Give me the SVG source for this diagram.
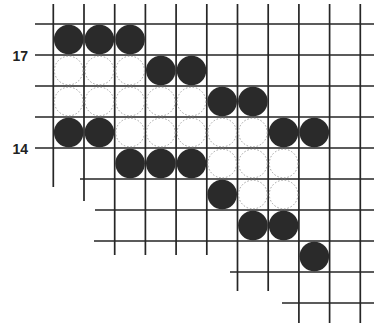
<svg xmlns="http://www.w3.org/2000/svg" width="374" height="324" viewBox="0 0 374 324">
<style>
.g{stroke:#262626;stroke-width:1.7;fill:none}
.b{fill:#2a2a2a}
.w{fill:#fff;stroke:#9a9a9a;stroke-width:0.9;stroke-dasharray:1.6 1.8}
.t{font-family:"Liberation Sans",Arial,sans-serif;font-weight:bold;font-size:14px;fill:#222}
</style>
<rect width="374" height="324" fill="#fff"/>
<g id="grid" class="g">
<path d="M35 24H374M35 55H374M35 86H374M35 117H374M35 148H374M80 179H374M95 210H374M94 241H374M230 272H374M282 303H374"/>
<path d="M53.3 4V187M84 4V201M114.7 4V255M145.4 4V255M176.1 4V255M206.8 4V255M237.5 4V291M268.2 4V291M298.9 4V323M329.6 4V323M360.3 4V323"/>
</g>
<g id="white-stones">
<circle class="w" cx="68.7" cy="70.5" r="14.3"/>
<circle class="w" cx="99.4" cy="70.5" r="14.3"/>
<circle class="w" cx="130.1" cy="70.5" r="14.3"/>
<circle class="w" cx="68.7" cy="101.5" r="14.3"/>
<circle class="w" cx="99.4" cy="101.5" r="14.3"/>
<circle class="w" cx="130.1" cy="101.5" r="14.3"/>
<circle class="w" cx="160.8" cy="101.5" r="14.3"/>
<circle class="w" cx="191.5" cy="101.5" r="14.3"/>
<circle class="w" cx="130.1" cy="132.5" r="14.3"/>
<circle class="w" cx="160.8" cy="132.5" r="14.3"/>
<circle class="w" cx="191.5" cy="132.5" r="14.3"/>
<circle class="w" cx="222.2" cy="132.5" r="14.3"/>
<circle class="w" cx="252.9" cy="132.5" r="14.3"/>
<circle class="w" cx="222.2" cy="163.5" r="14.3"/>
<circle class="w" cx="252.9" cy="163.5" r="14.3"/>
<circle class="w" cx="283.6" cy="163.5" r="14.3"/>
<circle class="w" cx="252.9" cy="194.5" r="14.3"/>
<circle class="w" cx="283.6" cy="194.5" r="14.3"/>
</g>
<g id="black-stones" class="b">
<circle cx="68.7" cy="39.5" r="14.8"/>
<circle cx="99.4" cy="39.5" r="14.8"/>
<circle cx="130.1" cy="39.5" r="14.8"/>
<circle cx="160.8" cy="70.5" r="14.8"/>
<circle cx="191.5" cy="70.5" r="14.8"/>
<circle cx="222.2" cy="101.5" r="14.8"/>
<circle cx="252.9" cy="101.5" r="14.8"/>
<circle cx="68.7" cy="132.5" r="14.8"/>
<circle cx="99.4" cy="132.5" r="14.8"/>
<circle cx="283.6" cy="132.5" r="14.8"/>
<circle cx="314.3" cy="132.5" r="14.8"/>
<circle cx="130.1" cy="163.5" r="14.8"/>
<circle cx="160.8" cy="163.5" r="14.8"/>
<circle cx="191.5" cy="163.5" r="14.8"/>
<circle cx="222.2" cy="194.5" r="14.8"/>
<circle cx="252.9" cy="225.5" r="14.8"/>
<circle cx="283.6" cy="225.5" r="14.8"/>
<circle cx="314.3" cy="256.5" r="14.8"/>
</g>
<g id="labels">
<text class="t" x="12.5" y="61">17</text>
<text class="t" x="12.5" y="154">14</text>
</g>
</svg>
